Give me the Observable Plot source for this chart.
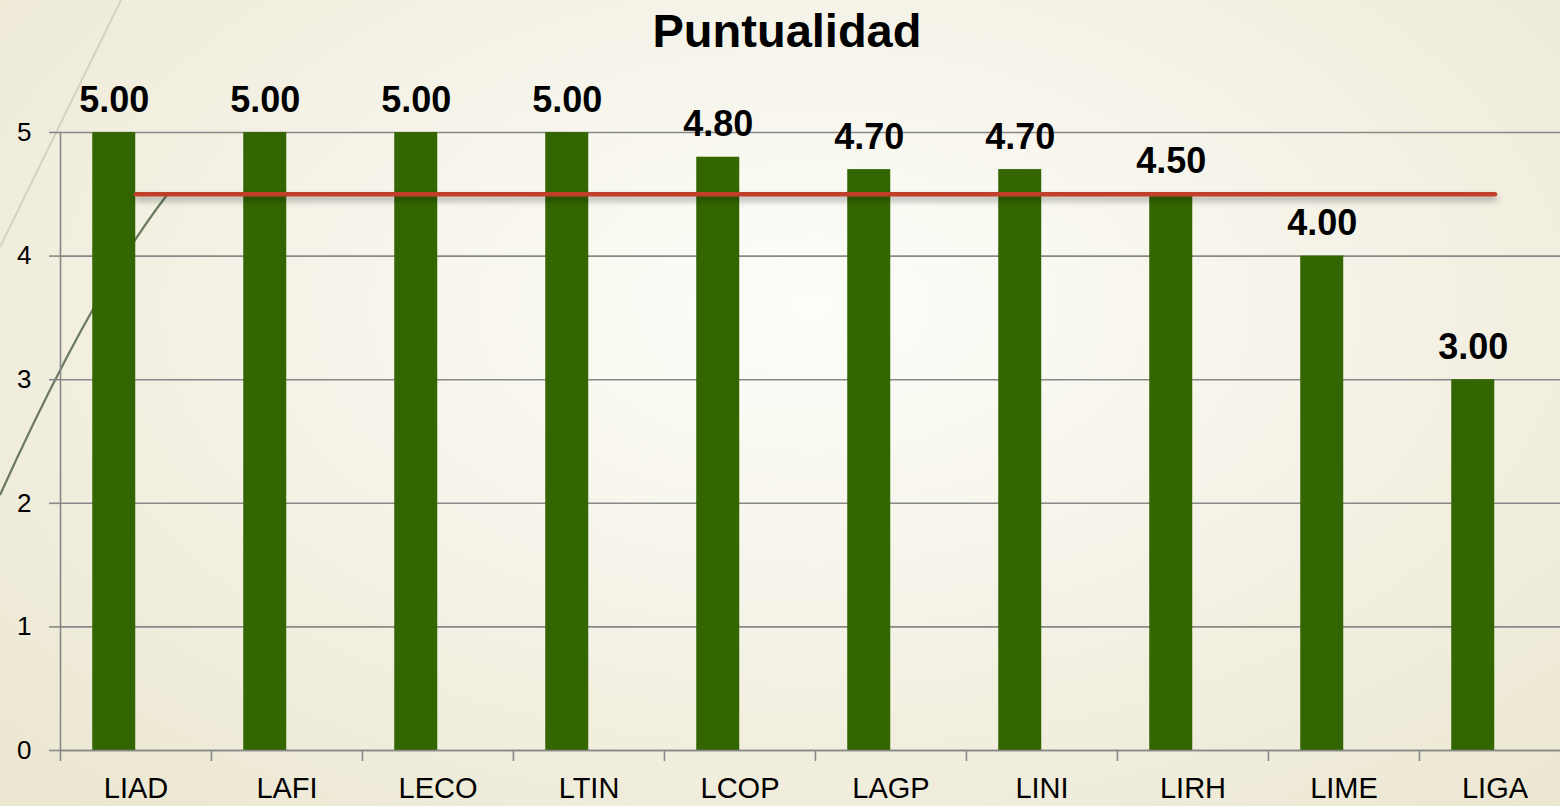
<!DOCTYPE html>
<html>
<head>
<meta charset="utf-8">
<script src="https://cdn.jsdelivr.net/npm/d3@7"></script>
<script src="https://cdn.jsdelivr.net/npm/@observablehq/plot@0.6"></script>
<style>
  html, body { margin: 0; padding: 0; overflow: hidden; }
  body {
    width: 1560px; height: 806px;
    background: radial-gradient(ellipse 75% 85% at 52% 38%, #fdfdf9 0%, #f5f3e8 45%, #ebe6cf 100%);
    font-family: "Liberation Sans", Arial, sans-serif;
  }
  #wrap { position: relative; width: 1560px; height: 806px; overflow: hidden; }
  #deco { position: absolute; left: 0; top: 0; }
  #chart { position: absolute; left: 0; top: 0; width: 1571px; }
  #chart svg { max-width: none !important; }
  #title {
    position: absolute; left: 0; top: 3px; width: 1574px; text-align: center;
    font: bold 47px "Liberation Sans", Arial, sans-serif; color: #000;
  }
  g[aria-label="line"] path { filter: drop-shadow(0px 4px 3px rgba(0,0,0,0.35)); }
</style>
</head>
<body>
<div id="wrap">
  <svg id="deco" width="1560" height="806">
    <path d="M121,0 L0,247" stroke="#d3d3c2" stroke-width="2" fill="none"/>
    <path d="M167,195 Q92,292 0,495" stroke="#6b7a5c" stroke-width="2.2" fill="none"/>
  </svg>
  <div id="chart"></div>
  <div id="title">Puntualidad</div>
</div>
<script>
const categories = ["LIAD", "LAFI", "LECO", "LTIN", "LCOP", "LAGP", "LINI", "LIRH", "LIME", "LIGA"];
const values = [5.00, 5.00, 5.00, 5.00, 4.80, 4.70, 4.70, 4.50, 4.00, 3.00];
const target = [4.5, 4.5, 4.5, 4.5, 4.5, 4.5, 4.5, 4.5, 4.5, 4.5];
const yTicks = [0, 1, 2, 3, 4, 5];

const W = 1571, ML = 60, MR = 0;
const step = (W - ML - MR) / categories.length;
const barShift = -step * 0.288 / 2;
const gray = "#888888";

const chart = Plot.plot({
  width: W,
  height: 806,
  marginLeft: ML,
  marginRight: MR,
  marginTop: 132,
  marginBottom: 56,
  style: { background: "transparent", fontFamily: "'Liberation Sans', Arial, sans-serif", overflow: "visible", color: "#000", maxWidth: "none" },
  x: { domain: categories, paddingInner: 0.712, paddingOuter: 0.356, label: null },
  y: { domain: [0, 5], label: null },
  marks: [
    Plot.gridY(yTicks, { stroke: gray, strokeOpacity: 1, strokeWidth: 1.6 }),
    Plot.frame({ anchor: "left", stroke: gray, strokeWidth: 1.6 }),
    Plot.axisY(yTicks, { tickSize: 11, tickPadding: 18, fontSize: 26, tickFormat: d3.format("d"), stroke: gray, strokeWidth: 1.6, fill: "#000", label: null }),
    Plot.barY(values, { x: (d, i) => categories[i], y: d => d, fill: "#336600", dx: barShift }),
    Plot.ruleY([0], { stroke: gray, strokeWidth: 1.6 }),
    Plot.axisX({ tickSize: 11, tickFormat: () => "", dx: -step / 2, stroke: gray, strokeWidth: 1.6, label: null }),
    Plot.axisX({ tickSize: 0, tickPadding: 27, fontSize: 29, fill: "#000", label: null }),
    Plot.lineY(target, { x: (d, i) => categories[i], y: d => d, stroke: "#bf3f28", strokeWidth: 4.5, strokeLinecap: "round" }),
    Plot.text(values, { x: (d, i) => categories[i], y: d => d, text: d => d.toFixed(2), dx: barShift, dy: -21, lineAnchor: "bottom", fontSize: 36, fontWeight: "bold", fill: "#000" })
  ]
});
document.getElementById("chart").appendChild(chart);
</script>
</body>
</html>
